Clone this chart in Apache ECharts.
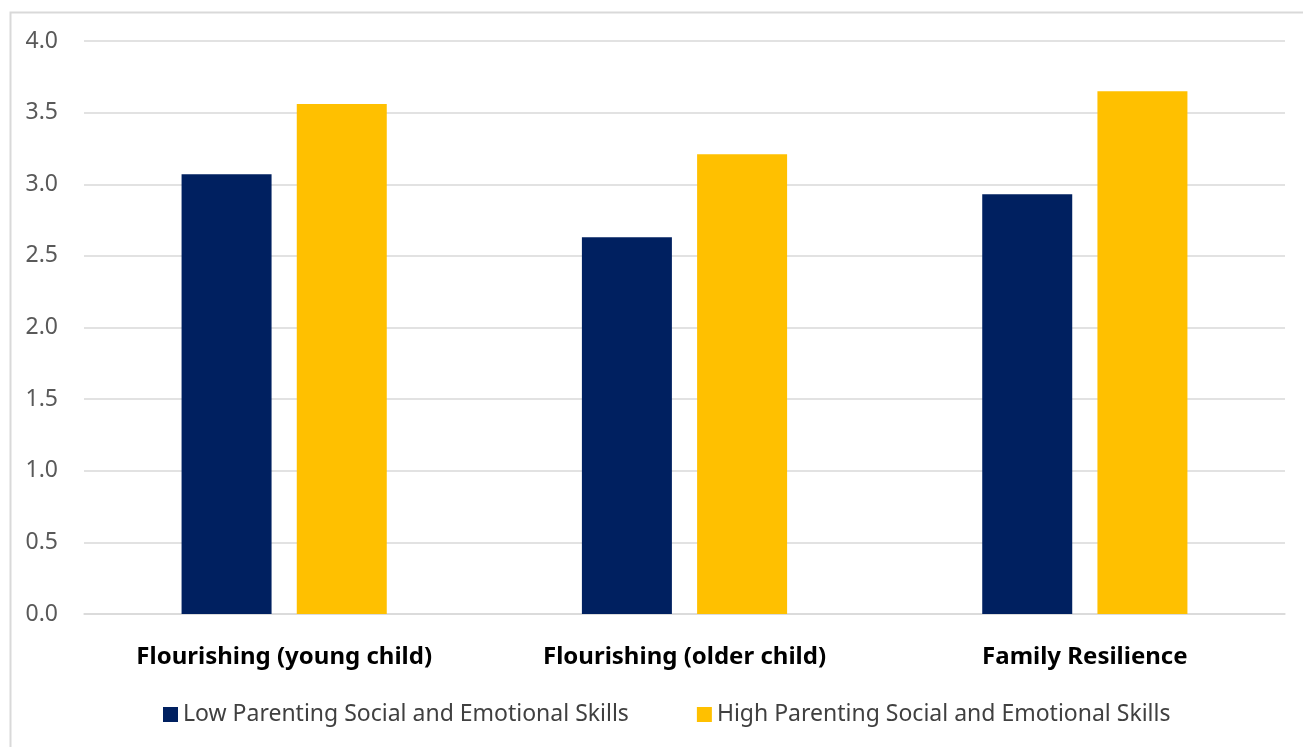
<!DOCTYPE html>
<html>
<head>
<meta charset="utf-8">
<script src="https://cdn.jsdelivr.net/npm/echarts@6/dist/echarts.min.js"></script>
<style>
  html, body { margin: 0; padding: 0; background: #fff; }
  #chart { width: 1303px; height: 747px; }
</style>
</head>
<body>
<div id="chart"></div>
<script>
const categories = ['Flourishing (young child)', 'Flourishing (older child)', 'Family Resilience'];
const lowSkills = [3.07, 2.63, 2.93];
const highSkills = [3.56, 3.21, 3.65];
const seriesNames = ['Low Parenting Social and Emotional Skills', 'High Parenting Social and Emotional Skills'];

const fontFamily = '"Noto Sans", "Open Sans", sans-serif';

const myChart = echarts.init(document.getElementById('chart'));

const option = {
  animation: false,
  color: ['#002060', '#FFC000'],
  textStyle: { fontFamily: fontFamily },
  // light frame around the chart area (right/bottom edges fall off the page)
  graphic: [
    {
      type: 'rect',
      left: 8,
      top: 10,
      shape: { width: 1310, height: 750 },
      style: { fill: 'none', stroke: '#d9d9d9', lineWidth: 2 },
      silent: true
    }
  ],
  grid: {
    left: 84,
    right: 18,
    top: 41,
    bottom: 133
  },
  legend: {
    data: seriesNames,
    left: 158,
    top: 698,
    itemWidth: 15,
    itemHeight: 15,
    itemGap: 68,
    icon: 'rect',
    textStyle: {
      fontSize: 23,
      color: '#404040',
      fontFamily: fontFamily
    }
  },
  xAxis: {
    type: 'category',
    data: categories,
    axisTick: { show: false },
    axisLine: { lineStyle: { color: '#d9d9d9', width: 1.5 } },
    axisLabel: {
      margin: 31,
      fontSize: 24,
      fontWeight: 'bold',
      color: '#000'
    }
  },
  yAxis: {
    type: 'value',
    min: 0,
    max: 4,
    interval: 0.5,
    axisLine: { show: false },
    axisTick: { show: false },
    splitLine: { lineStyle: { color: '#d9d9d9', width: 1.5 } },
    axisLabel: {
      margin: 26,
      fontSize: 23,
      color: '#595959',
      formatter: (v) => v.toFixed(1)
    }
  },
  series: [
    {
      name: seriesNames[0],
      type: 'bar',
      data: lowSkills,
      barWidth: 90,
      barGap: '28%'
    },
    {
      name: seriesNames[1],
      type: 'bar',
      data: highSkills,
      barWidth: 90,
      barGap: '28%'
    }
  ]
};

myChart.setOption(option);
</script>
</body>
</html>
